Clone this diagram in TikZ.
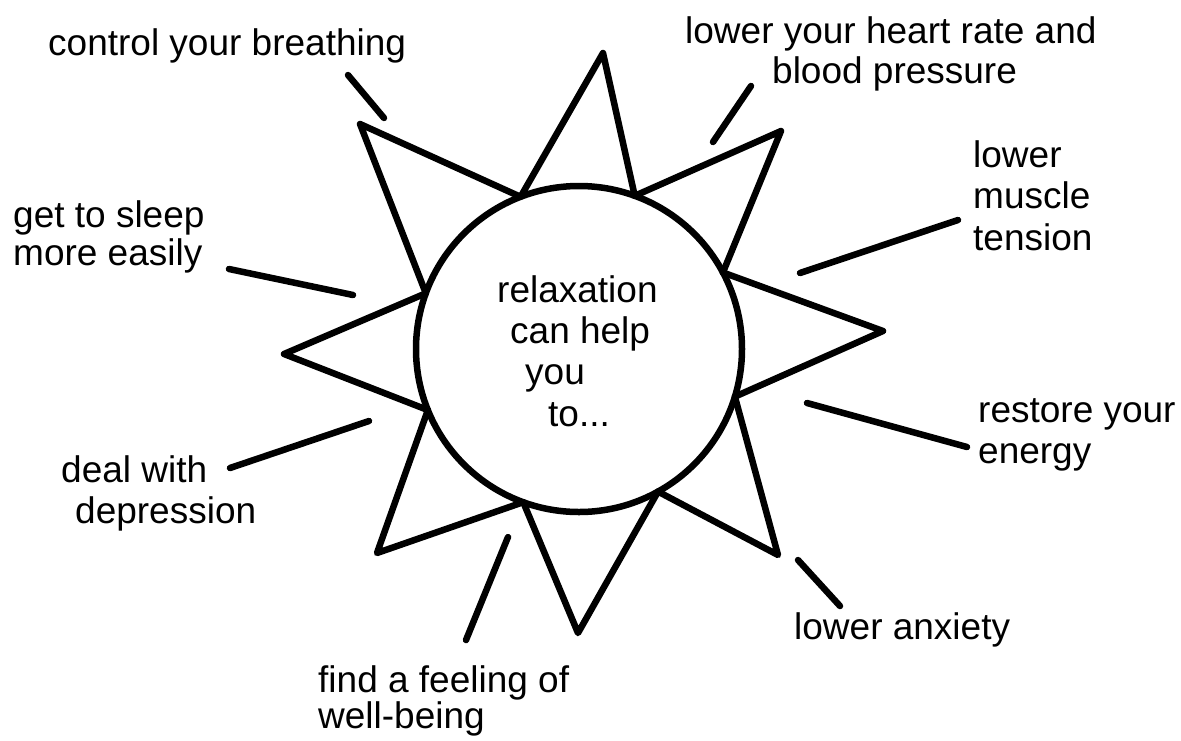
\documentclass[tikz,border=0pt]{standalone}
\usepackage{fontspec}
\setmainfont{Liberation Sans}
\begin{document}
\begin{tikzpicture}[x=1pt,y=-1pt,
  ink/.style={line width=6.5pt, line cap=round, line join=round},
  lbl/.style={anchor=base west, inner sep=0pt, font=\fontsize{37}{41}\selectfont}]
\useasboundingbox[fill=white] (0,0) rectangle (1181,740);

% sun body
\node[draw, circle, ink, minimum size=326pt, inner sep=0pt, outer sep=0pt] (sun) at (579,349) {};

% ray tips
\coordinate (tTop) at (603,53);
\coordinate (tUR) at (781,131);
\coordinate (tR) at (883,331);
\coordinate (tLR) at (778,555);
\coordinate (tB) at (578,633);
\coordinate (tLL) at (377,553);
\coordinate (tL) at (284,354);
\coordinate (tUL) at (360,124);

\draw[ink] (sun.111.5) -- (tTop) -- (sun.70);
\draw[ink] (sun.70) -- (tUR) -- (sun.28);
\draw[ink] (sun.28) -- (tR) -- (sun.-17.5);
\draw[ink] (sun.-17.5) -- (tLR) -- (sun.-61.5);
\draw[ink] (sun.-61.5) -- (tB) -- (sun.-110);
\draw[ink] (sun.-110) -- (tLL) -- (sun.-158);
\draw[ink] (sun.-158) -- (tL) -- (sun.160);
\draw[ink] (sun.160) -- (tUL) -- (sun.111.5);

% centre text
\node[lbl] (c1) at (497,302) {relaxation};
\node[lbl] (c2) at (510,343) {can help};
\node[lbl] (c3) at (525,384) {you};
\node[lbl] (c4) at (548,426) {to...};

% labels
\node[lbl] (cb) at (48,55) {control your breathing};
\node[lbl] (hr1) at (685,43) {lower your heart rate and};
\node[lbl] (hr2) at (772,83) {blood pressure};
\node[lbl] (mt1) at (973,167) {lower};
\node[lbl] (mt2) at (973,208) {muscle};
\node[lbl] (mt3) at (973,250) {tension};
\node[lbl] (gs1) at (13,227) {get to sleep};
\node[lbl] (gs2) at (13,265) {more easily};
\node[lbl] (re1) at (978,422) {restore your};
\node[lbl] (re2) at (978,463) {energy};
\node[lbl] (dd1) at (61,482) {deal with};
\node[lbl] (dd2) at (75,523) {depression};
\node[lbl] (la) at (794,639) {lower anxiety};
\node[lbl] (fw1) at (318,692) {find a feeling of};
\node[lbl] (fw2) at (318,728) {well-being};

% pointer strokes
\coordinate (pCa) at (348,75);  \coordinate (pCb) at (384,118);
\coordinate (pHa) at (751,86);  \coordinate (pHb) at (713,142);
\coordinate (pMa) at (958,220); \coordinate (pMb) at (800,273);
\coordinate (pSa) at (229,269); \coordinate (pSb) at (353,295);
\coordinate (pRa) at (807,403); \coordinate (pRb) at (967,447);
\coordinate (pDa) at (230,468); \coordinate (pDb) at (369,421);
\coordinate (pAa) at (798,560); \coordinate (pAb) at (840,606);
\coordinate (pFa) at (466,640); \coordinate (pFb) at (508,537);

\draw[ink] (pCa) -- (pCb);
\draw[ink] (pHa) -- (pHb);
\draw[ink] (pMa) -- (pMb);
\draw[ink] (pSa) -- (pSb);
\draw[ink] (pRa) -- (pRb);
\draw[ink] (pDa) -- (pDb);
\draw[ink] (pAa) -- (pAb);
\draw[ink] (pFa) -- (pFb);
\end{tikzpicture}
\end{document}
